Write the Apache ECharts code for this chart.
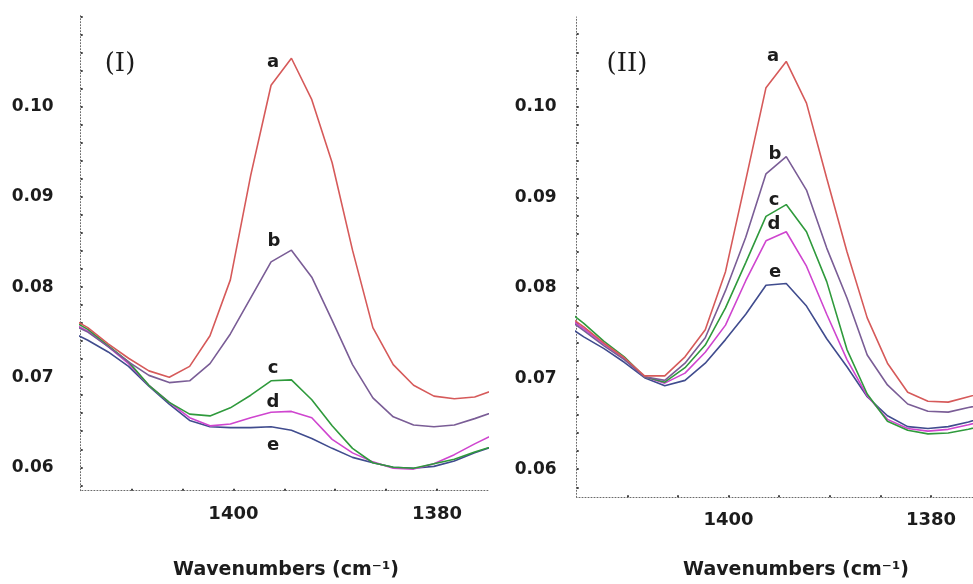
<!DOCTYPE html>
<html>
<head>
<meta charset="utf-8">
<script src="https://cdn.jsdelivr.net/npm/echarts@6/dist/echarts.min.js"></script>
<style>
  html, body { margin: 0; padding: 0; background: #ffffff; }
  #chart { width: 973px; height: 584px; }
</style>
</head>
<body>
<div id="chart"></div>
<script>
// Sampled wavenumbers (cm-1), shared by every spectrum
const wavenumbers = [1416.3, 1414.3, 1412.3, 1410.3, 1408.3, 1406.3, 1404.3, 1402.3, 1400.3, 1398.3, 1396.3,
                     1394.3, 1392.3, 1390.3, 1388.3, 1386.3, 1384.3, 1382.3, 1380.3, 1378.3, 1376.3, 1374.3];

const sampleNames = ['a', 'b', 'c', 'd', 'e'];

// Panel (I) absorbance
const panel1A = [0.0768, 0.0755, 0.0737, 0.0721, 0.0707, 0.0700, 0.0712, 0.0746, 0.0808, 0.0924, 0.1024,
                 0.1054, 0.1008, 0.0938, 0.0841, 0.0755, 0.0714, 0.0691, 0.0679, 0.0676, 0.0678, 0.0686];
const panel1B = [0.0761, 0.0750, 0.0734, 0.0717, 0.0702, 0.0694, 0.0696, 0.0715, 0.0748, 0.0788, 0.0828,
                 0.0841, 0.0811, 0.0763, 0.0714, 0.0677, 0.0656, 0.0647, 0.0645, 0.0647, 0.0654, 0.0662];
const panel1C = [0.0766, 0.0753, 0.0735, 0.0717, 0.0691, 0.0672, 0.0659, 0.0657, 0.0666, 0.0680, 0.0696,
                 0.0697, 0.0675, 0.0646, 0.0621, 0.0605, 0.0600, 0.0599, 0.0604, 0.0609, 0.0617, 0.0624];
const panel1D = [0.0763, 0.0751, 0.0734, 0.0715, 0.0691, 0.0672, 0.0655, 0.0646, 0.0648, 0.0655, 0.0661,
                 0.0662, 0.0655, 0.0631, 0.0616, 0.0606, 0.0599, 0.0598, 0.0604, 0.0614, 0.0626, 0.0637];
const panel1E = [0.0752, 0.0741, 0.0728, 0.0712, 0.0690, 0.0670, 0.0652, 0.0645, 0.0644, 0.0644, 0.0645,
                 0.0641, 0.0632, 0.0621, 0.0611, 0.0605, 0.0600, 0.0599, 0.0601, 0.0607, 0.0616, 0.0624];

// Panel (II) absorbance
const panel2A = [0.0773, 0.0757, 0.0739, 0.0723, 0.0703, 0.0703, 0.0724, 0.0754, 0.0818, 0.0919, 0.1021,
                 0.1050, 0.1004, 0.0921, 0.0840, 0.0767, 0.0717, 0.0685, 0.0675, 0.0674, 0.0680, 0.0686];
const panel2B = [0.0769, 0.0753, 0.0736, 0.0721, 0.0702, 0.0698, 0.0717, 0.0745, 0.0797, 0.0856, 0.0926,
                 0.0945, 0.0908, 0.0844, 0.0789, 0.0726, 0.0693, 0.0672, 0.0664, 0.0663, 0.0668, 0.0673];
const panel2C = [0.0778, 0.0761, 0.0741, 0.0724, 0.0702, 0.0696, 0.0712, 0.0737, 0.0778, 0.0828, 0.0879,
                 0.0892, 0.0862, 0.0807, 0.0732, 0.0683, 0.0653, 0.0643, 0.0639, 0.0640, 0.0644, 0.0650];
const panel2D = [0.0771, 0.0755, 0.0738, 0.0722, 0.0702, 0.0695, 0.0706, 0.0729, 0.0759, 0.0808, 0.0852,
                 0.0862, 0.0824, 0.0771, 0.0721, 0.0681, 0.0655, 0.0645, 0.0642, 0.0644, 0.0649, 0.0655];
const panel2E = [0.0761, 0.0746, 0.0733, 0.0718, 0.0701, 0.0692, 0.0698, 0.0717, 0.0743, 0.0771, 0.0803,
                 0.0805, 0.0780, 0.0744, 0.0713, 0.0680, 0.0659, 0.0647, 0.0645, 0.0647, 0.0652, 0.0659];

// Axis annotations
const yTickLabels = [0.06, 0.07, 0.08, 0.09, 0.10];
const xTickLabels = [1400, 1380];
const xMinorTicks = [1410, 1405, 1400, 1395, 1390, 1385, 1380];
const panelTitles = ['(I)', '(II)'];
const axisTitle = 'Wavenumbers (cm\u207B\u00B9)';

// ---- styling ----
const lineColors = ['#d65a5a', '#7a5d96', '#2f9a3c', '#cf45cf', '#404c8e'];
const labelFont = { fontFamily: 'DejaVu Sans', fontWeight: 'bold', color: '#1c1c1c' };

// y minor ticks every 0.002
const yMinorTicks = [];
for (let k = 29; k <= 55; k++) yMinorTicks.push(Math.round(k * 2) / 1000);

const panels = [
  {
    data: [panel1A, panel1B, panel1C, panel1D, panel1E],
    grid: { left: 80.7, top: 15, width: 407.2, height: 475.7 },
    xRange: [1375, 1415],
    yRange: [0.0574, 0.1102],
    yLabelMargin: 27,
    xLabelMargin: 15,
    letterIndex: 10,
    letterOffsets: [[2, -23], [3, -21], [2, -12], [2, -10], [2, 19]],
    titlePos: [115, 46],
    axisTitleX: 281
  },
  {
    data: [panel2A, panel2B, panel2C, panel2D, panel2E],
    grid: { left: 576.7, top: 17, width: 396.3, height: 480.3 },
    xRange: [1375.85, 1415],
    yRange: [0.0569, 0.1099],
    yLabelMargin: 20,
    xLabelMargin: 14,
    letterIndex: 10,
    letterOffsets: [[7, -31], [9, -19], [8, -16], [8, -17], [9, -13]],
    titlePos: [622, 46],
    axisTitleX: 791
  }
];

const axisLineStyle = { color: '#6a6a6a', width: 1, type: [1, 2] };

const grids = [], xAxes = [], yAxes = [], series = [], titles = [];

panels.forEach((p, pi) => {
  grids.push(Object.assign({ containLabel: false }, p.grid));

  xAxes.push({
    type: 'value', gridIndex: pi, inverse: true,
    min: p.xRange[0], max: p.xRange[1],
    splitLine: { show: false },
    axisLine: { show: true, onZero: false, lineStyle: axisLineStyle },
    axisTick: { show: true, customValues: xMinorTicks, length: 2, inside: true,
                lineStyle: { color: '#444', width: 2 } },
    axisLabel: Object.assign({ customValues: xTickLabels, fontSize: 18, margin: p.xLabelMargin,
                               formatter: v => String(v) }, labelFont)
  });

  yAxes.push({
    type: 'value', gridIndex: pi,
    min: p.yRange[0], max: p.yRange[1],
    splitLine: { show: false },
    axisLine: { show: true, onZero: false, lineStyle: axisLineStyle },
    axisTick: { show: true, customValues: yMinorTicks, length: 2, inside: true,
                lineStyle: { color: '#444', width: 2 } },
    axisLabel: Object.assign({ customValues: yTickLabels, fontSize: 17, margin: p.yLabelMargin,
                               formatter: v => v.toFixed(2) }, labelFont)
  });

  p.data.forEach((vals, si) => {
    const k = p.letterIndex;
    series.push({
      type: 'line', name: sampleNames[si],
      xAxisIndex: pi, yAxisIndex: pi,
      data: wavenumbers.map((w, i) => [w, vals[i]]),
      showSymbol: false, symbol: 'none', smooth: false,
      lineStyle: { color: lineColors[si], width: 1.6 },
      z: 10 - si,
      markPoint: {
        symbol: 'circle', symbolSize: 1,
        itemStyle: { color: 'rgba(0,0,0,0)' },
        label: Object.assign({ show: true, formatter: sampleNames[si], fontSize: 18,
                               offset: p.letterOffsets[si], position: 'inside' }, labelFont),
        data: [{ coord: [wavenumbers[k], vals[k]] }]
      }
    });
  });

  titles.push({
    text: panelTitles[pi], left: p.titlePos[0], top: p.titlePos[1], textAlign: 'center',
    textStyle: { fontFamily: 'DejaVu Serif', fontWeight: 'normal', fontSize: 26, color: '#1c1c1c' }
  });
  titles.push({
    text: axisTitle, left: p.axisTitleX, top: 556, textAlign: 'center',
    textStyle: { fontFamily: 'DejaVu Sans', fontWeight: 'bold', fontSize: 19, color: '#1c1c1c' }
  });
});

const chart = echarts.init(document.getElementById('chart'), null, { renderer: 'canvas' });
chart.setOption({
  animation: false,
  backgroundColor: '#ffffff',
  title: titles,
  grid: grids,
  xAxis: xAxes,
  yAxis: yAxes,
  series: series
});
</script>
</body>
</html>
